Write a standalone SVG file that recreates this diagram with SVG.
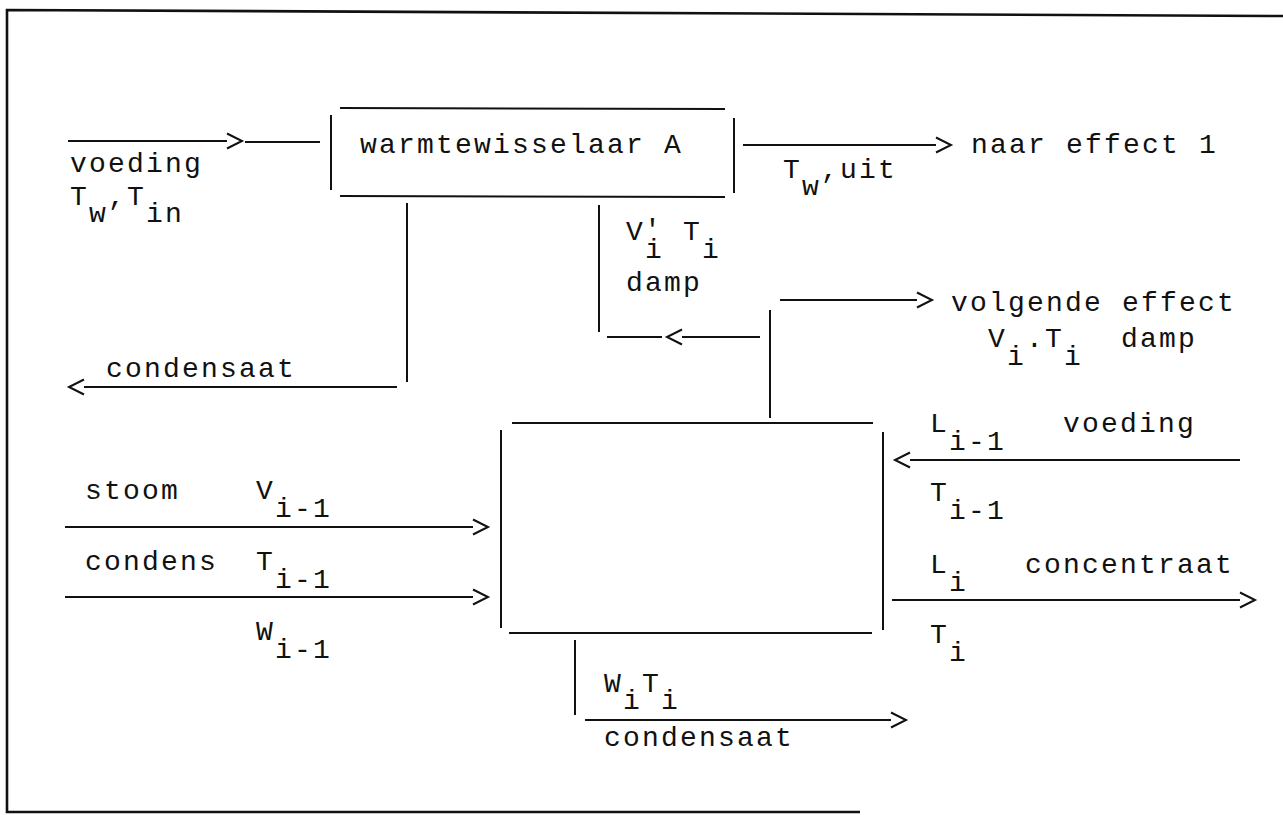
<svg xmlns="http://www.w3.org/2000/svg" width="1283" height="815" viewBox="0 0 1283 815">
<style>
.ln{stroke:#111;stroke-width:2;fill:none;stroke-linecap:butt}
.fr{stroke:#111;stroke-width:2.6;fill:none}
.t{font-family:"Liberation Mono","DejaVu Sans Mono",monospace;font-size:28px;letter-spacing:2.2px;fill:#111}
.arr{marker-end:url(#chev)}
</style>
<defs>
<marker id="chev" viewBox="-2 -10 20 20" markerWidth="20" markerHeight="20" refX="0" refY="0" orient="auto" markerUnits="userSpaceOnUse">
<path d="M0,-7.5 L15,0 L0,7.5" fill="none" stroke="#111" stroke-width="2"/>
</marker>
</defs>
<rect width="1283" height="815" fill="#fff"/>
<path class="fr" d="M1283,16 L7,10 L7,812 L860,812"/>

<g id="warmtewisselaar-A">
<line class="ln" x1="340" y1="108" x2="725" y2="109"/>
<line class="ln" x1="340" y1="196" x2="725" y2="197"/>
<line class="ln" x1="331" y1="115" x2="331" y2="190"/>
<line class="ln" x1="734" y1="118" x2="734" y2="193"/>
<text class="t" x="360" y="153">warmtewisselaar A</text>
</g>

<g id="verdamper">
<line class="ln" x1="512" y1="423" x2="873" y2="423"/>
<line class="ln" x1="509" y1="633" x2="872" y2="633"/>
<line class="ln" x1="501" y1="430" x2="501" y2="628"/>
<line class="ln" x1="883" y1="432" x2="883" y2="630"/>
</g>

<g id="connectors">
<line class="ln arr" x1="68" y1="141" x2="227" y2="141"/>
<line class="ln" x1="245" y1="142" x2="320" y2="142"/>
<line class="ln arr" x1="743" y1="145" x2="936" y2="145"/>
<line class="ln" x1="407" y1="203" x2="407" y2="382"/>
<line class="ln arr" x1="397" y1="387" x2="84" y2="387"/>
<line class="ln" x1="599" y1="205" x2="599" y2="332"/>
<line class="ln" x1="607" y1="337" x2="662" y2="337"/>
<line class="ln arr" x1="760" y1="337" x2="682" y2="337"/>
<line class="ln" x1="770" y1="310" x2="770" y2="418"/>
<line class="ln arr" x1="780" y1="300" x2="917" y2="300"/>
<line class="ln arr" x1="1240" y1="460" x2="910" y2="460"/>
<line class="ln arr" x1="892" y1="600" x2="1240" y2="600"/>
<line class="ln arr" x1="65" y1="527" x2="473" y2="527"/>
<line class="ln arr" x1="65" y1="597" x2="473" y2="597"/>
<line class="ln" x1="575" y1="640" x2="575" y2="715"/>
<line class="ln arr" x1="585" y1="720" x2="891" y2="720"/>
</g>

<g id="labels">
<text class="t" x="70" y="172">voeding</text>
<text class="t" x="70" y="205">T<tspan dy="17">w</tspan><tspan dy="-17">,T</tspan><tspan dy="17">in</tspan></text>
<text class="t" x="971" y="153">naar effect 1</text>
<text class="t" x="783" y="178">T<tspan dy="17">w</tspan><tspan dy="-17">,uit</tspan></text>
<text class="t" x="106" y="377">condensaat</text>
<text class="t" y="240"><tspan x="626">V</tspan><tspan x="644" dy="-2">'</tspan><tspan x="645" dy="20">i</tspan><tspan x="683" dy="-18">T</tspan><tspan x="702" dy="18">i</tspan></text>
<text class="t" x="626" y="291">damp</text>
<text class="t" x="951" y="311">volgende effect</text>
<text class="t" y="347"><tspan x="988">V</tspan><tspan dy="18">i</tspan><tspan dy="-18">.T</tspan><tspan dy="18">i</tspan><tspan x="1121" dy="-18">damp</tspan></text>
<text class="t" y="432"><tspan x="930">L</tspan><tspan dy="18">i-1</tspan><tspan x="1063" dy="-18">voeding</tspan></text>
<text class="t" x="930" y="501">T<tspan dy="18">i-1</tspan></text>
<text class="t" y="573"><tspan x="930">L</tspan><tspan dy="18">i</tspan><tspan x="1025" dy="-18">concentraat</tspan></text>
<text class="t" x="930" y="643">T<tspan dy="18">i</tspan></text>
<text class="t" y="499"><tspan x="85">stoom</tspan><tspan x="256">V</tspan><tspan dy="18">i-1</tspan></text>
<text class="t" y="570"><tspan x="85">condens</tspan><tspan x="256">T</tspan><tspan dy="18">i-1</tspan></text>
<text class="t" x="256" y="640">W<tspan dy="18">i-1</tspan></text>
<text class="t" x="604" y="692">W<tspan dy="17">i</tspan><tspan dy="-17">T</tspan><tspan dy="17">i</tspan></text>
<text class="t" x="604" y="746">condensaat</text>
</g>
</svg>
